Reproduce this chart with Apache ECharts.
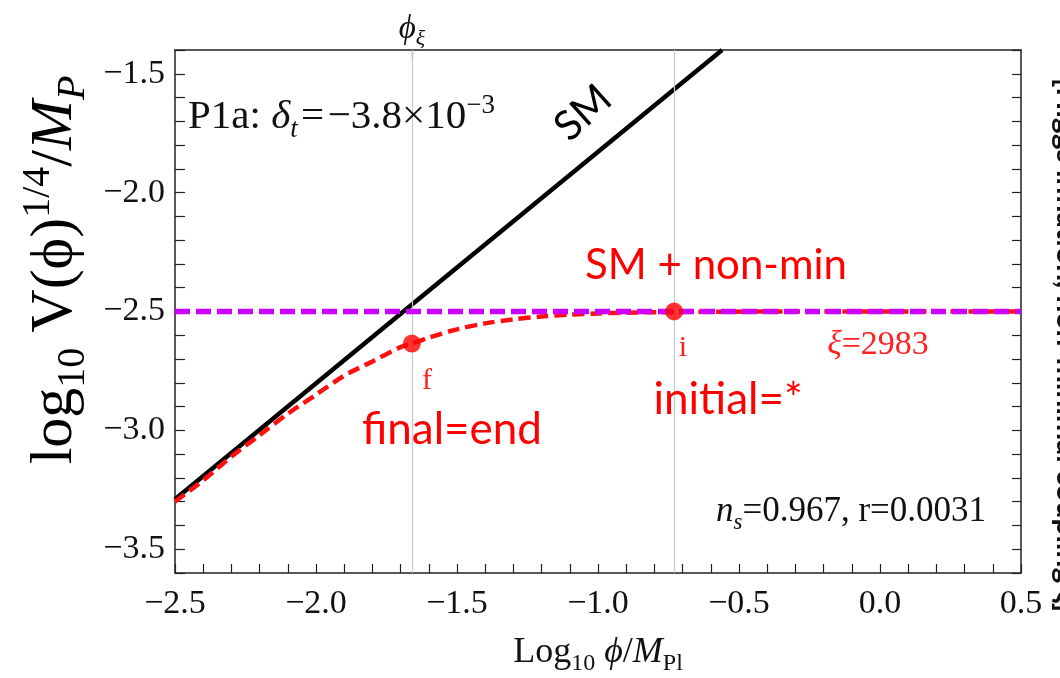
<!DOCTYPE html>
<html>
<head>
<meta charset="utf-8">
<title>Inflaton potential: SM vs SM + non-minimal coupling</title>
<script src="https://cdn.jsdelivr.net/npm/echarts@6/dist/echarts.min.js"></script>
<style>
  html, body { margin: 0; padding: 0; background: #ffffff; }
  #chart { width: 1060px; height: 678px; }
</style>
</head>
<body>
<div id="chart"></div>
<script>
// Axis ranges and labelled ticks
const xRange = [-2.5, 0.5];
const yRange = [-3.6, -1.4];
const xMajorTicks = [-2.5, -2.0, -1.5, -1.0, -0.5, 0.0, 0.5];
const yMajorTicks = [-3.5, -3.0, -2.5, -2.0, -1.5];

// Pure SM quartic potential (straight line in log-log)
const smLine = [[-2.5, -3.29], [-1.69, -2.5], [-0.56, -1.40]];

// SM + non-minimal coupling (Einstein frame), flattens into the plateau
const nonMinCurve = [
  [-2.5, -3.30], [-2.4, -3.21], [-2.3, -3.11], [-2.2, -3.02], [-2.1, -2.93],
  [-2.0, -2.85], [-1.9, -2.77], [-1.8, -2.71], [-1.7, -2.65], [-1.66, -2.635],
  [-1.6, -2.61], [-1.5, -2.575], [-1.4, -2.55], [-1.3, -2.533], [-1.2, -2.521],
  [-1.1, -2.513], [-1.0, -2.508], [-0.9, -2.505], [-0.8, -2.503], [-0.6, -2.501],
  [-0.3, -2.5], [0.5, -2.5]
];

// Plateau level
const plateau = [[-2.5, -2.5], [0.5, -2.5]];

// Field values: phi_xi (end of inflation) and initial point
const phiXi = -1.66;
const phiInit = -0.73;
const endPoint = [[-1.66, -2.635]];
const initPoint = [[-0.73, -2.5]];

const SERIF = '"Liberation Serif", "DejaVu Serif", serif';
const SANS = 'Lato, "Open Sans", sans-serif';
const PHI = '\u03d5';
const HAIR = '\u200a';

function isMajor(v, list) {
  return list.some(t => Math.abs(t - v) < 1e-6);
}
function fmt(v) {
  const s = Math.abs(v).toFixed(1);
  return (v < -1e-9 ? '\u2212' : '') + s;
}

// Rich-text styles for math-like labels: sub/superscripts are shifted with padding
function mathRich(F, color) {
  const s = Math.round(F * 0.66);
  const a = Math.round(F * 0.62);
  const b = Math.round(F * 0.55);
  const base = { fontFamily: SERIF, color: color, fill: color };
  return {
    m: Object.assign({}, base, { fontSize: F, lineHeight: F }),
    mi: Object.assign({}, base, { fontSize: F, lineHeight: F, fontStyle: 'italic' }),
    sb: Object.assign({}, base, { fontSize: s, lineHeight: s, padding: [a, 0, 0, 0] }),
    sbi: Object.assign({}, base, { fontSize: s, lineHeight: s, padding: [a, 0, 0, 0], fontStyle: 'italic' }),
    sp: Object.assign({}, base, { fontSize: s, lineHeight: s, padding: [0, 0, b, 0] })
  };
}

const chart = echarts.init(document.getElementById('chart'), null, { renderer: 'canvas' });

const axisLineStyle = { color: '#222', width: 1.5 };
const tickStyle = { color: '#222', width: 1.2 };

const option = {
  backgroundColor: '#ffffff',
  animation: false,
  grid: { left: 175, right: 39, top: 50, bottom: 105, containLabel: false },
  xAxis: [
    {
      type: 'value', min: xRange[0], max: xRange[1], interval: 0.1,
      axisLine: { show: true, onZero: false, lineStyle: axisLineStyle },
      axisTick: { show: true, inside: true, length: 9, lineStyle: tickStyle },
      splitLine: { show: false },
      axisLabel: {
        interval: 0, margin: 14, color: '#111', fontFamily: SERIF, fontSize: 34,
        formatter: v => isMajor(v, xMajorTicks) ? fmt(v) : ''
      }
    },
    {
      type: 'value', position: 'top', min: xRange[0], max: xRange[1],
      axisLine: { show: true, onZero: false, lineStyle: axisLineStyle },
      axisTick: { show: true, inside: true, length: 9, customValues: [phiXi], lineStyle: tickStyle },
      splitLine: { show: false },
      axisLabel: {
        show: true, margin: 4, customValues: [phiXi],
        formatter: () => '{mi|' + PHI + '}{sbi|\u03be}',
        rich: mathRich(33, '#111')
      }
    }
  ],
  yAxis: [
    {
      type: 'value', min: yRange[0], max: yRange[1], interval: 0.1,
      axisLine: { show: true, onZero: false, lineStyle: axisLineStyle },
      axisTick: { show: true, inside: true, length: 10, lineStyle: tickStyle },
      splitLine: { show: false },
      axisLabel: {
        interval: 0, margin: 10, color: '#111', fontFamily: SERIF, fontSize: 34,
        formatter: v => isMajor(v, yMajorTicks) ? fmt(v) : ''
      }
    },
    {
      type: 'value', position: 'right', min: yRange[0], max: yRange[1], interval: 0.1,
      axisLine: { show: true, onZero: false, lineStyle: axisLineStyle },
      axisTick: { show: true, inside: true, length: 9, lineStyle: tickStyle },
      axisLabel: { show: false },
      splitLine: { show: false }
    }
  ],
  series: [
    {
      // vertical reference lines at phi_xi and the initial field value
      type: 'line', data: [], z: 1, silent: true,
      markLine: {
        silent: true, symbol: 'none', animation: false,
        label: { show: false },
        lineStyle: { color: '#c8c8c8', width: 1.2, type: 'solid' },
        data: [{ xAxis: phiXi }, { xAxis: phiInit }]
      }
    },
    {
      name: 'SM', type: 'line', data: smLine, showSymbol: false, symbol: 'none', z: 3,
      lineStyle: { color: '#000000', width: 4.5 }
    },
    {
      name: 'SM + non-min', type: 'line', data: nonMinCurve, smooth: 0.3, showSymbol: false, symbol: 'none', z: 4,
      lineStyle: { color: '#ff1010', width: 4.5, type: [12, 6] }
    },
    {
      name: 'plateau', type: 'line', data: plateau, showSymbol: false, symbol: 'none', z: 5,
      lineStyle: { color: '#cc00ff', width: 5.5, type: [15, 6] }
    },
    {
      name: 'f', type: 'scatter', data: endPoint, symbolSize: 18, z: 6,
      itemStyle: { color: '#ff0000' }
    },
    {
      name: 'i', type: 'scatter', data: initPoint, symbolSize: 18, z: 6,
      itemStyle: { color: '#ff0000' }
    }
  ],
  graphic: [
    {
      // y-axis title
      type: 'text', x: 55, y: 270, rotation: Math.PI / 2, z: 10,
      style: {
        text: '{m|log}{sb|10}{m| V(' + PHI + ')}{sp|1/4}{m|/}{mi|M}{sbi|P}',
        align: 'center', verticalAlign: 'middle',
        rich: mathRich(60, '#000')
      }
    },
    {
      // x-axis title
      type: 'text', x: 598, y: 653, z: 10,
      style: {
        text: '{m|Log}{sb|10}{m| }{mi|' + PHI + '}{m|/}{mi|M}{sb|Pl}',
        align: 'center', verticalAlign: 'middle',
        rich: mathRich(36, '#111')
      }
    },
    {
      type: 'text', x: 188, y: 117, z: 10,
      style: {
        text: '{m|P1a: }{mi|\u03b4}{sbi|t}{m|' + HAIR + '=' + HAIR + '\u22123.8\u00d710}{sp|\u22123}',
        align: 'left', verticalAlign: 'middle',
        rich: mathRich(41, '#111')
      }
    },
    {
      type: 'text', x: 583, y: 113, rotation: 42 * Math.PI / 180, z: 10,
      style: { text: 'SM', fontFamily: SANS, fontSize: 41, fill: '#000', align: 'center', verticalAlign: 'middle' }
    },
    {
      type: 'text', x: 716, y: 265, z: 10,
      style: { text: 'SM + non-min', fontFamily: SANS, fontSize: 42, fill: '#ff0000', align: 'center', verticalAlign: 'middle' }
    },
    {
      type: 'text', x: 427, y: 381, z: 10,
      style: { text: 'f', fontFamily: SERIF, fontSize: 30, fill: '#ff2020', align: 'center', verticalAlign: 'middle' }
    },
    {
      type: 'text', x: 452, y: 430, z: 10,
      style: { text: 'final=end', fontFamily: SANS, fontSize: 44, fill: '#ff0000', align: 'center', verticalAlign: 'middle' }
    },
    {
      type: 'text', x: 683, y: 348, z: 10,
      style: { text: 'i', fontFamily: SERIF, fontSize: 30, fill: '#ff2020', align: 'center', verticalAlign: 'middle' }
    },
    {
      type: 'text', x: 728, y: 400, z: 10,
      style: { text: 'initial=*', fontFamily: SANS, fontSize: 44, fill: '#ff0000', align: 'center', verticalAlign: 'middle' }
    },
    {
      type: 'text', x: 878, y: 345, z: 10,
      style: {
        text: '{mi|\u03be}{m|=2983}', align: 'center', verticalAlign: 'middle',
        rich: mathRich(34, '#ff2020')
      }
    },
    {
      type: 'text', x: 851, y: 512, z: 10,
      style: {
        text: '{mi|n}{sbi|s}{m|=0.967, r=0.0031}', align: 'center', verticalAlign: 'middle',
        rich: mathRich(35, '#111')
      }
    },
    {
      // margin note, rotated and running off the right edge
      type: 'text', x: 1067, y: 345, rotation: -Math.PI / 2, z: 10,
      style: {
        text: '[Higgs inflation, non-minimal coupling \u03be]', fontFamily: SANS, fontWeight: 'bold',
        fontSize: 30, fill: '#111', align: 'center', verticalAlign: 'middle'
      }
    }
  ]
};

chart.setOption(option);
</script>
</body>
</html>
